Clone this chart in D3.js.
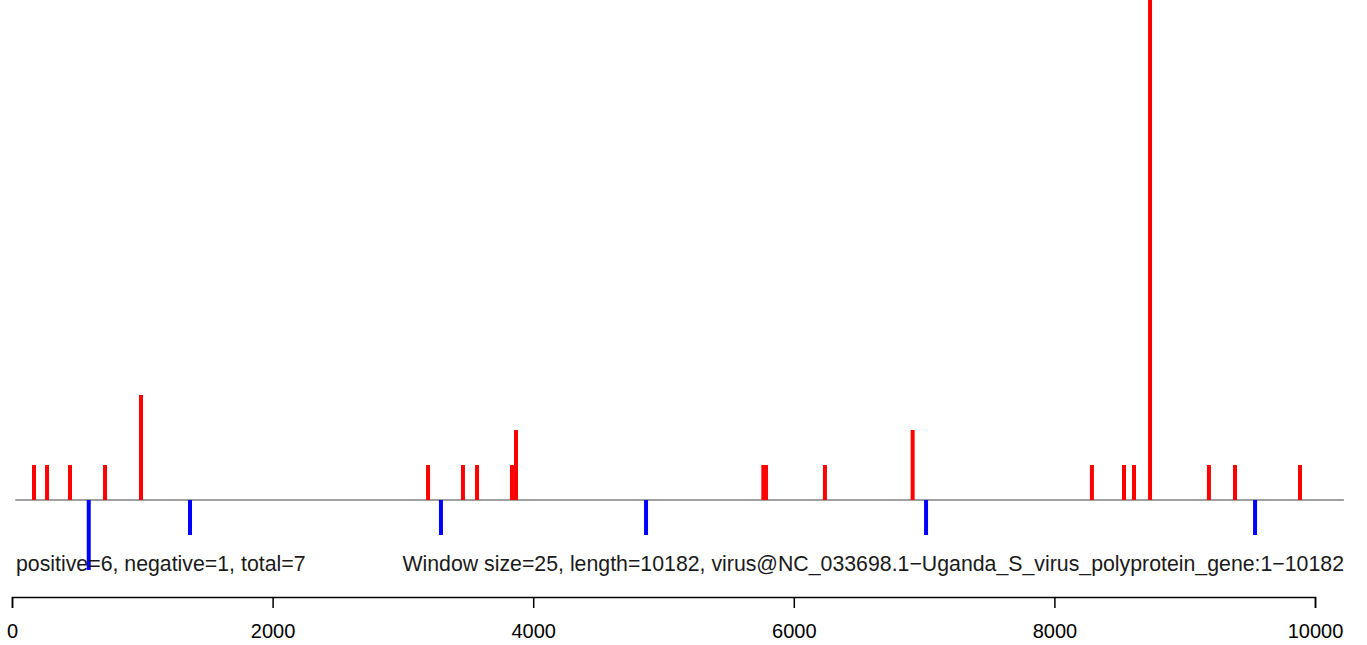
<!doctype html>
<html>
<head>
  <script src="https://d3js.org/d3.v7.min.js"></script>
  <style>
    body { margin: 0; background: #fff; }
    text { font-family: "Liberation Sans", Arial, sans-serif; }
  </style>
</head>
<body>
  <script>
    // data: window positions and counts
    var posStart = [169, 269, 445, 714, 990, 3193, 3461, 3569, 3837, 3868, 5766, 5787, 6239, 6912, 8288, 8534, 8611, 8734, 9186, 9386, 9885];
    var posCount = [1, 1, 1, 1, 3, 1, 1, 1, 1, 2, 1, 1, 1, 2, 1, 1, 1, 15, 1, 1, 1];
    var negStart = [589, 1366, 3292, 4866, 7015, 9540];
    var negCount = [2, 1, 1, 1, 1, 1];
    var xTicks = [0, 2000, 4000, 6000, 8000, 10000];
    var seqLength = 10182;
    var leftNote = "positive=6, negative=1, total=7";
    var rightNote = "Window size=25, length=10182, virus@NC_033698.1\u2212Uganda_S_virus_polyprotein_gene:1\u221210182";

    var width = 1367;
    var height = 645;

    var x = d3.scaleLinear().domain([0, 10000]).range([12, 1315]);
    var y = d3.scaleLinear().domain([0, 1]).range([500, 465]);

    var svg = d3.select("body").append("svg")
      .attr("width", width)
      .attr("height", height);

    // baseline
    svg.append("line")
      .attr("x1", x(25)).attr("x2", x(seqLength + 40))
      .attr("y1", y(0)).attr("y2", y(0))
      .attr("stroke", "#808080")
      .attr("stroke-width", 1.5);

    var pos = posStart.map(function(d, i) { return { s: d, c: posCount[i] }; });
    var neg = negStart.map(function(d, i) { return { s: d, c: negCount[i] }; });

    svg.selectAll("line.pos")
      .data(pos)
      .enter().append("line")
      .attr("class", "pos")
      .attr("x1", function(d) { return x(d.s); })
      .attr("x2", function(d) { return x(d.s); })
      .attr("y1", y(0))
      .attr("y2", function(d) { return y(d.c); })
      .attr("stroke", "#ff0000")
      .attr("stroke-width", 4);

    svg.selectAll("line.neg")
      .data(neg)
      .enter().append("line")
      .attr("class", "neg")
      .attr("x1", function(d) { return x(d.s); })
      .attr("x2", function(d) { return x(d.s); })
      .attr("y1", y(0))
      .attr("y2", function(d) { return y(-d.c); })
      .attr("stroke", "#0000ff")
      .attr("stroke-width", 4);

    // notes
    svg.append("text")
      .attr("x", 16).attr("y", 571)
      .attr("font-size", "21.3px")
      .attr("fill", "#1a1a1a")
      .text(leftNote);

    svg.append("text")
      .attr("x", 1344).attr("y", 571)
      .attr("text-anchor", "end")
      .attr("font-size", "21.3px")
      .attr("fill", "#1a1a1a")
      .text(rightNote);

    // axis
    var axis = d3.axisBottom(x)
      .tickValues(xTicks)
      .tickFormat(d3.format("d"))
      .tickSize(11)
      .tickPadding(16);

    var g = svg.append("g")
      .attr("transform", "translate(0,597)")
      .call(axis);
    g.selectAll("path, line").attr("stroke", "#000").attr("stroke-width", 1.5);
    g.selectAll("text")
      .attr("font-size", "20px")
      .attr("font-family", "Liberation Sans, Arial, sans-serif")
      .attr("fill", "#000");
  </script>
</body>
</html>
